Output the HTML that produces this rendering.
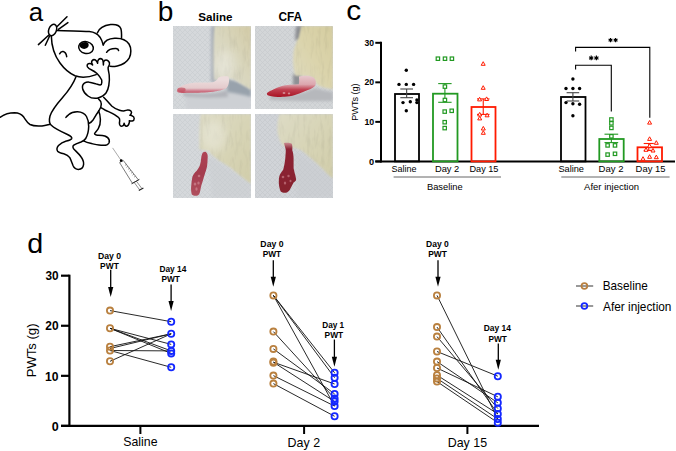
<!DOCTYPE html>
<html><head><meta charset="utf-8"><style>
html,body{margin:0;padding:0;background:#fff;}
body{width:676px;height:451px;overflow:hidden;position:relative;}
svg{position:absolute;left:0;top:0;font-family:"Liberation Sans", sans-serif;}
</style></head><body>
<svg width="676" height="451" viewBox="0 0 676 451">
<defs>
<filter id="soft" x="-10%" y="-10%" width="120%" height="120%"><feGaussianBlur stdDeviation="0.7"/></filter>
<filter id="soft4" x="-50%" y="-50%" width="200%" height="200%"><feGaussianBlur stdDeviation="4"/></filter>
<filter id="soft2" x="-30%" y="-30%" width="160%" height="160%"><feGaussianBlur stdDeviation="1.8"/></filter>
<filter id="furf" x="-5%" y="-5%" width="110%" height="110%" color-interpolation-filters="sRGB">
 <feGaussianBlur in="SourceGraphic" stdDeviation="1.1" result="b"/>
 <feTurbulence type="fractalNoise" baseFrequency="0.28 0.06" numOctaves="3" seed="5" result="t"/>
 <feColorMatrix in="t" type="matrix" values="0.12 0 0 0 0.935  0.12 0 0 0 0.935  0.12 0 0 0 0.935  0 0 0 0 1" result="m"/>
 <feComposite in="b" in2="m" operator="arithmetic" k1="1" k2="0" k3="0" k4="0"/>
</filter>
<pattern id="towel" x="0" y="0" width="5" height="5" patternUnits="userSpaceOnUse">
 <rect width="5" height="5" fill="#d8dbde"/>
 <path d="M0 0 L5 5 M5 0 L0 5" stroke="#b8bcc0" stroke-width="0.7"/>
</pattern>
<linearGradient id="fur1" x1="1" y1="0" x2="0" y2="1"><stop offset="0" stop-color="#d3cba6"/><stop offset="0.45" stop-color="#d9d6bd"/><stop offset="1" stop-color="#dddccf"/></linearGradient>
<linearGradient id="fur2" x1="1" y1="0" x2="0" y2="1"><stop offset="0" stop-color="#d5cda0"/><stop offset="0.5" stop-color="#dbd4ac"/><stop offset="1" stop-color="#dfdbc0"/></linearGradient>
<linearGradient id="fur3" x1="0" y1="0" x2="1" y2="1"><stop offset="0" stop-color="#dddbc5"/><stop offset="0.55" stop-color="#d7d4b5"/><stop offset="1" stop-color="#d1cdaa"/></linearGradient>
<linearGradient id="leg1" x1="0" y1="80" x2="0" y2="93.5" gradientUnits="userSpaceOnUse"><stop offset="0" stop-color="#ecdcdc"/><stop offset="0.6" stop-color="#e4cacc"/><stop offset="0.8" stop-color="#d08090"/><stop offset="1" stop-color="#c04456"/></linearGradient>
<linearGradient id="leg2" x1="0" y1="76" x2="0" y2="97" gradientUnits="userSpaceOnUse"><stop offset="0" stop-color="#e6c8cc"/><stop offset="0.4" stop-color="#dca6ae"/><stop offset="0.65" stop-color="#c04050"/><stop offset="1" stop-color="#a81424"/></linearGradient>
<linearGradient id="leg3" x1="0" y1="151" x2="0" y2="196" gradientUnits="userSpaceOnUse"><stop offset="0" stop-color="#b04454"/><stop offset="0.5" stop-color="#a43c4e"/><stop offset="1" stop-color="#b0505e"/></linearGradient>
<linearGradient id="leg4" x1="0" y1="143" x2="0" y2="193" gradientUnits="userSpaceOnUse"><stop offset="0" stop-color="#c88890"/><stop offset="0.12" stop-color="#8e2434"/><stop offset="1" stop-color="#86202e"/></linearGradient>
<clipPath id="cp1"><rect x="173" y="26" width="78" height="83"/></clipPath>
<clipPath id="cp2"><rect x="255" y="26" width="78" height="83"/></clipPath>
<clipPath id="cp3"><rect x="173" y="114" width="78" height="84"/></clipPath>
<clipPath id="cp4"><rect x="255" y="114" width="78" height="84"/></clipPath>
</defs>
<!-- photo 1 -->
<g clip-path="url(#cp1)">
<rect x="173" y="26" width="78" height="83" fill="#d3d7da"/>
<rect x="173" y="26" width="78" height="83" fill="url(#towel)" opacity="0.35"/>
<path d="M211 26 L218 26 L217 82 L211 82 Z" fill="#a9afb8" filter="url(#soft2)"/>
<path d="M186 93 C200 95 220 94 229 89 C236 91 244 93 251 94 L251 109 L186 109 Z" fill="#cdd0d4" filter="url(#soft2)"/>
<path d="M183 92.5 C195 94 215 95 227 90 L228 97 C215 98 195 98 183 96 Z" fill="#b2b4ba" filter="url(#soft2)"/>
<path d="M227 79 C235 80 244 84 251 89 L251 97 C244 95 236 93 227 92 Z" fill="#98a2ac" filter="url(#soft2)"/>
<path d="M214.5 26 L251 26 L251 90 C247 87.5 242 84.5 238 82 C235 80 232 78.8 229 78.5 C224 78.5 218 79.5 214 80.3 C213.2 65 213.2 40 214.5 26 Z" fill="url(#fur1)" filter="url(#furf)"/>
<ellipse cx="225" cy="64" rx="9" ry="14" fill="#f4f4ee" opacity="0.4" filter="url(#soft4)"/>
<path d="M228.5 76.5 C229.6 80 229.2 85 226.5 88 C223 90.5 215 91.5 207.6 92.3 C200 93 190 92.5 184 93 C180 93.3 177 92.5 176.8 90.8 C176.8 89 178.5 87.5 181 86.3 C185 84 190 83 196 82.6 C202 82.3 208 82.8 212.5 82.2 C216 81.6 217.5 79.5 218.5 77.5 C221 76.3 225.5 76 228.5 76.5 Z" fill="url(#leg1)" filter="url(#soft)"/>
<ellipse cx="181.5" cy="89.8" rx="4.2" ry="2.4" fill="#c24a5a" opacity="0.65" filter="url(#soft)"/>
</g>
<!-- photo 2 -->
<g clip-path="url(#cp2)">
<rect x="255" y="26" width="78" height="83" fill="#d1d3d5"/>
<rect x="255" y="26" width="78" height="83" fill="url(#towel)" opacity="0.35"/>
<path d="M296 26 L304 26 L300 40 L295 40 Z" fill="#8a8c90" filter="url(#soft2)"/>
<path d="M293 74 L301 74 L301 86 L293 86 Z" fill="#8e9094" filter="url(#soft2)"/>
<path d="M270 95 C285 97 300 95 315 88 C322 90 328 91 333 92 L333 101 C310 101 290 101 270 100 Z" fill="#b6b8bc" filter="url(#soft2)"/>
<path d="M301.5 26 L333 26 L333 89 C327 88.5 320 87 316.5 84 C315 80 313 77.5 309 76.5 C304 76 299 76 295 75.5 C293.8 70 293 64 293.1 60.6 C293.2 55 293.6 51 294.2 49 C295.5 44 297.5 40 298.8 37.5 C299.8 33 300.6 29 301.5 26 Z" fill="url(#fur2)" filter="url(#furf)"/>
<path d="M299 76.5 C304 75.5 310 75.5 313.5 77.5 C316 79.5 316.5 83 315 86 C312.5 88.5 308 90 303 92 C298 94 293 95.8 289.6 96.3 C285 97 281 97 278 96.9 C273 96.6 269 96 267.7 95.2 C266.5 94.3 266.8 93.2 267.7 92.5 C269 91.3 271 90.5 272.3 90 C275 88.6 277.5 87.3 280.4 86.5 C283.5 85.6 287 85 289.6 84.8 C293 84.6 296 84.5 298.8 84.2 C299.5 81.5 299 79 299 76.5 Z" fill="url(#leg2)" filter="url(#soft)"/>
<g fill="#e0b0b4" opacity="0.7" filter="url(#soft)">
<ellipse cx="284" cy="93" rx="1.4" ry="1"/><ellipse cx="289" cy="93.5" rx="1.2" ry="0.9"/>
</g>
</g>
<!-- photo 3 -->
<g clip-path="url(#cp3)">
<rect x="173" y="114" width="78" height="84" fill="#d4d7da"/>
<rect x="173" y="114" width="78" height="84" fill="url(#towel)" opacity="0.35"/>
<path d="M208 156 C220 163 236 174 251 184 L251 198 L212 198 Z" fill="#c8cbcf" opacity="0.45" filter="url(#soft2)"/>
<path d="M200.5 114 L251 114 L251 183.8 C246 180.3 242 177 238.8 174.4 C235 171.5 232 169 231.8 168.5 C228 166 225 164.5 222.4 162.6 C219 160.5 216.5 158.5 214.1 156.8 C211.5 154.5 209.5 152.5 208.3 150.9 C205 150.5 202 150 199.5 149.5 C199 138 199.3 125 200.5 114 Z" fill="url(#fur3)" filter="url(#furf)"/>
<ellipse cx="214" cy="136" rx="12" ry="16" fill="#f4f4ee" opacity="0.35" filter="url(#soft4)"/>
<path d="M205.9 152 C207.2 153 207.9 155 207.7 156.8 C207.6 160 207.5 163 207.1 166.2 C206.4 169.5 205.5 172 204.7 174.4 C204 176.5 203.5 178.5 203 180.3 C202.3 182.3 201.7 184.2 201.2 186.1 C200.7 188 200.4 190.2 200 192 C199.5 193.8 198.8 195 197.7 195.5 C195.5 196 193 195.6 191.8 194.4 C191 191.5 190.9 188.8 191.2 186.1 C191.4 182.8 191.8 179.5 192.4 176.7 C193.3 174 195 172.2 196.5 170.9 C198 169 199.3 167 200 165 C200.7 162.5 201 160 201.2 157.9 C201.6 155.5 202.2 153.5 203 152.6 C203.8 151.9 204.9 151.6 205.9 152 Z" fill="url(#leg3)" filter="url(#soft)"/>
<g fill="#d89aa2" opacity="0.55" filter="url(#soft)">
<ellipse cx="195" cy="184" rx="1.3" ry="1.6"/><ellipse cx="198.5" cy="183" rx="1.2" ry="1.5"/><ellipse cx="196.5" cy="189" rx="1.1" ry="1.8"/><ellipse cx="199" cy="176" rx="1.3" ry="1.2"/>
</g>
</g>
<!-- photo 4 -->
<g clip-path="url(#cp4)">
<rect x="255" y="114" width="78" height="84" fill="#cdd0d4"/>
<rect x="255" y="114" width="78" height="84" fill="url(#towel)" opacity="0.35"/>
<path d="M294 150 C308 158 322 168 333 178 L333 198 L296 198 Z" fill="#c8cbcf" opacity="0.45" filter="url(#soft2)"/>
<path d="M279.4 114 L333 114 L333 178.6 C330 176 328.5 175 327 173.4 C324 170 321.5 167.5 319.3 165.7 C315.5 162 312 159 309 156.7 C306 154 303.5 152 301.3 150.3 C298 148.8 295 148 292.3 147.7 C289 147.5 286 146.5 283.5 145.5 C280.5 143 278.5 138 277.5 132 C277 126 277.5 120 279.4 114 Z" fill="url(#fur3)" filter="url(#furf)"/>
<path d="M284 143 C286 142.5 289.5 142.5 291.5 143.5 C292.5 145 292.5 147.5 292.3 150.3 C293.2 153 293.6 156 293.6 159.3 C293.6 162.5 293.6 165.5 293.6 168.3 C293.9 170 294.4 171.7 294.8 173.4 C295.4 175.5 296 177.5 296.1 179.8 C295.8 181.2 294.7 181.8 293.6 182.4 C292.3 185 291 187.5 289.7 190.1 C288.6 191.7 287.3 192.6 285.8 192.7 C284 193 282 192.5 280.7 191.4 C279.5 188.5 278.9 185.5 278.8 182.4 C278.7 180 278.9 178 279.4 176 C280.3 173.5 282 171.5 283.3 169.6 C284.2 166 284.8 162.5 285.2 159.3 C285.5 156 285.7 153 285.8 150.3 C285.5 148 284.5 145.5 284 143 Z" fill="url(#leg4)" filter="url(#soft)"/>
<g fill="#d08890" opacity="0.6" filter="url(#soft)">
<ellipse cx="283" cy="177" rx="1.3" ry="1.3"/><ellipse cx="288.5" cy="176" rx="1.2" ry="1.2"/><ellipse cx="285" cy="183" rx="1.2" ry="1.5"/><ellipse cx="290.5" cy="181" rx="1" ry="1.2"/>
</g>
</g>

<g fill="none" stroke="#000" stroke-width="1.5" stroke-linecap="round" stroke-linejoin="round">
<!-- whiskers -->
<path d="M57.4 26.2 L67 16.8 M58.4 29.4 L67.9 22.6 M48.6 35.3 L38.4 44.6 M49.5 36.3 L45.3 45.3"/>
<!-- head top -->
<path d="M56.4 30.5 C70 30.8 84 31 89.3 31.5 C94 32 98 34.3 100 37.2 C101.5 39.5 102.5 42 103.2 44.9"/>
<!-- head left & chin -->
<path d="M51.3 35.8 C51.5 45 54 55 60 63 C64 68.5 70 73.5 75 75.8 C80 77.6 88 77.6 96.2 74.6"/>
<!-- nose -->
<ellipse cx="52.6" cy="30" rx="3.8" ry="5.9" transform="rotate(22 52.6 30)" fill="#fff"/>
<!-- cheek -->
<path d="M59.6 53.8 C60.5 52 62 51.4 63.2 51.6 C65 52 66.3 54 66.7 56.7"/>
<!-- eye -->
<ellipse cx="86" cy="47.6" rx="7.4" ry="5.9" transform="rotate(14 86 47.6)"/>
<!-- back ear -->
<path d="M97.3 32.9 C99 28.5 104 25.5 110.6 24.6 C115 24.2 119.5 25.3 120.8 28.5 C121.8 31.5 121.6 35.5 121.5 38.3"/>
<!-- front ear -->
<path d="M103.2 44.9 C104.5 41 109 38.5 114.6 38.2 C120 37.9 126 39.5 129 44 C131.5 48 131.3 54 129.3 57.9 C127 62 122 65 117.3 65.9 C114.5 66.5 111.8 66.5 110 66.3"/>
<path d="M106.6 52.3 C108.5 49.5 112 48.5 116 48.6 C117.5 48.8 118.5 49.6 118.6 50.6"/>
<!-- left arm + hand (closed) -->
<path fill="#fff" d="M101.7 80 C100.5 77.5 99 75.5 97 73.5 C95 71.6 93 70.5 91.2 69.7 C89.5 69 88.2 68 87.5 66.8 C86.8 65.5 87.2 64.2 88.3 63.8 C89.5 63.3 91.5 63.8 92.6 65 C91.6 63.5 91.4 61.5 92.2 60.5 C93 59.7 94.5 59.5 95.4 60 C96.5 60.6 97.2 62 97.6 63.3 C97.5 61.8 97.9 60.2 98.7 59.4 C99.5 58.7 101.3 58.6 102.3 59.4 C103.1 60.1 103.3 62.5 103.4 65 C103.3 62.8 103.6 61.2 104.5 60.5 C105.3 60 107.2 60.1 108.4 61.1 C109.5 62 109.7 63.5 109.4 64.6 C109.1 65.8 108.3 66.5 108.1 67.6 C108 69.5 108.8 72 109.2 75 C109.6 78.5 109.4 82 108.8 85.5 C108.2 89 107.5 91 106 93 C104.5 95 102 97 97.2 98.2 C93 98.8 90 97.5 88 96 C85.5 94.2 83.5 92 82.7 89 C82.2 87 82.6 84.5 84.4 83.2 C86 82.2 88 82 89.4 82.2 C92 82.5 94 83.3 96.1 83.9 C97.8 84.4 99.2 85 100.2 84.9 C101.4 84.7 101.8 83.8 101.8 82.5 Z"/>
<!-- body left + left foot + thigh inner -->
<path d="M75.9 77 C74 82 70 89 62.6 97.6 C57 104 52 110 50 116 C49 120 49.3 123.3 51 125 C54 128 62 132 67.5 134.5 C70.5 136 72.2 137.3 71.7 138.6 C71 140 68.5 140.5 66.3 141 C63.5 141.8 60.5 143.4 58.5 145.5 C57 147.3 56.7 149.8 57.6 151.2 C58.8 152.6 61.5 153.2 63.8 153.7 C66 154.3 68.3 155.5 69.8 157.7 C71 160 72 163 73 165.5 C74 167.8 75.8 169.4 78.4 169.4 C81 169.3 83.2 167.5 83.6 164.3 C84 161.5 82.6 158.9 80.8 156.5 C78.8 153.7 76 151.3 74 149.2 C72.6 147.6 72.6 146.2 73.8 145.2 C75.5 143.9 78.5 142.9 81 142 C83 141.2 84.5 140.5 85.7 138.5 C87.5 135.5 88.6 131 88.7 126.6 C88.8 122.5 88.2 119.5 86.5 116.5 C84.8 113.5 81.5 111.8 77.5 111.7 C73.5 111.6 70.5 113 68.5 114.8 C67.5 115.6 66.5 116.6 65.9 117.4"/>
<!-- tail -->
<path d="M50.2 124.3 C47 125 45.5 125.5 42 125.9 C38 126.2 33 126 30 124.5 C27 122.8 25.5 119.5 23.5 116.7 C21.5 114 18.5 112.8 14.5 112.7 C9 112.7 4 114.5 0 117.3"/>
<!-- right leg / foot -->
<path d="M83.6 140.8 C86 142 88 142.7 90.5 143.3 C93.5 144 96 144.8 99 145.1 C102 145.4 105.5 145.4 107.2 144.7 C109 143.8 109.6 141.8 109.2 140 C108.6 138 107 136.8 104.8 136 C102.5 135.3 99.5 135.3 97.5 135.2 C95.8 135.1 94.5 134.5 94.6 133.6 C95 132.4 97 130.8 98.3 128.6 C99.8 126 100.5 123 100.4 119.5 C100.3 116 99.6 113 98.6 111.2"/>
<path d="M98.6 111.2 C96.5 114 94.5 117.5 93 120 C92 121.5 90.8 122.5 89.2 123.2"/>
<!-- body right -->
<path d="M98.5 98.8 C100.3 100.3 101.3 102 101.3 104 C101.3 106 100.6 108 99.4 109.8 L98.6 111.2"/>
<!-- right arm -->
<path d="M103.6 97.3 C106 99.5 109 103.3 112 106.3 C114.5 108.4 117 109.6 119.5 110.3 C121 110.8 122.3 110.9 123.5 110.9 C125 110.8 126.5 110.1 127.6 110 C129 109.9 130.2 110.3 130.9 111 C131.6 111.8 131.7 112.9 131.2 113.7 C130.8 114.4 130.1 114.9 129.9 115.3 C130.5 115.4 131.3 115.4 132 115.7 C133.3 116.2 134.2 117.2 134.2 118.5 C134.2 119.8 133.4 120.8 132.3 121 C131.2 121.2 130 120.9 129.3 120.7 C129.5 121.3 129.4 122.4 129.1 123.3 C128.7 124.8 127.6 126.1 126.4 126.2 C125.3 126.2 124.4 125.1 124.1 123.2 C124 124.5 123.3 125.7 122.2 126.1 C121.2 126.4 120.2 125.9 119.7 124.8 C119.3 123.6 119.4 122 119.7 120.8 C119.9 119.5 119.6 118.4 118.6 117.5 C117.5 116.6 116 115.6 114.5 114.6 C112 113 108 111.5 105 110 C103.5 109.2 102.3 108.5 101.3 107.9"/>
</g>
<!-- pupil -->
<clipPath id="eyeclip"><ellipse cx="86" cy="47.6" rx="6.9" ry="5.4" transform="rotate(14 86 47.6)"/></clipPath>
<ellipse cx="84.1" cy="45.1" rx="4.6" ry="3.9" fill="#000" clip-path="url(#eyeclip)"/>
<!-- syringe -->
<g fill="none" stroke="#222" stroke-linecap="butt">
<line x1="112.6" y1="147.9" x2="120.9" y2="160.1" stroke-width="0.5" stroke="#555"/>
<circle cx="121.2" cy="160.7" r="1.4" fill="#000" stroke="none"/>
<path d="M119.6 162.6 L123.3 160.5 L138.5 180 L132.4 183.3 Z" stroke-width="0.6" transform="translate(0,0)"/>
<path d="M131.5 183.8 L139.4 179.4" stroke-width="0.9"/>
<path d="M134.3 182.6 L139.6 189.8 M136.6 181.4 L141.9 188.6" stroke-width="0.5"/>
<path d="M138.8 190.4 L143.4 187.9" stroke-width="1.1"/>
<path d="M126.34 164.40 l-1.4 1.1 M127.86 166.35 l-1.4 1.1 M129.38 168.30 l-1.4 1.1 M130.90 170.25 l-1.4 1.1 M132.42 172.20 l-1.4 1.1 M133.94 174.15 l-1.4 1.1 M135.46 176.10 l-1.4 1.1" stroke-width="0.45"/>
</g>

<line x1="381" y1="41.81000000000002" x2="381" y2="162.4" stroke="#000" stroke-width="2"/>
<line x1="375.3" y1="161.4" x2="675" y2="161.4" stroke="#000" stroke-width="2"/>
<line x1="375.3" y1="161.4" x2="381" y2="161.4" stroke="#000" stroke-width="2"/>
<line x1="375.3" y1="121.87" x2="381" y2="121.87" stroke="#000" stroke-width="2"/>
<line x1="375.3" y1="82.34" x2="381" y2="82.34" stroke="#000" stroke-width="2"/>
<line x1="375.3" y1="42.81000000000002" x2="381" y2="42.81000000000002" stroke="#000" stroke-width="2"/>
<rect x="395" y="94.0" width="24" height="67.4" fill="none" stroke="#000" stroke-width="1.8"/>
<rect x="433" y="93.7" width="24.5" height="67.7" fill="none" stroke="#229922" stroke-width="1.8"/>
<rect x="471.5" y="107" width="24.0" height="54.400000000000006" fill="none" stroke="#ff1a00" stroke-width="1.8"/>
<rect x="561" y="97.0" width="24.5" height="64.4" fill="none" stroke="#000" stroke-width="1.8"/>
<rect x="599.3" y="139" width="24.40000000000009" height="22.400000000000006" fill="none" stroke="#229922" stroke-width="1.8"/>
<rect x="637.5" y="147.3" width="24.5" height="14.099999999999994" fill="none" stroke="#ff1a00" stroke-width="1.8"/>
<g stroke="#444" stroke-width="1.1"><line x1="406.65" y1="89.0" x2="406.65" y2="97.7"/><line x1="400.3" y1="89.0" x2="413" y2="89.0"/><line x1="400.3" y1="97.7" x2="413" y2="97.7"/></g>
<g stroke="#229922" stroke-width="1.1"><line x1="444.9" y1="83.6" x2="444.9" y2="102.3"/><line x1="438.2" y1="83.6" x2="451.6" y2="83.6"/><line x1="438.2" y1="102.3" x2="451.6" y2="102.3"/></g>
<g stroke="#ff1a00" stroke-width="1.1"><line x1="483.25" y1="98.9" x2="483.25" y2="114.4"/><line x1="477" y1="98.9" x2="489.5" y2="98.9"/><line x1="477" y1="114.4" x2="489.5" y2="114.4"/></g>
<g stroke="#444" stroke-width="1.1"><line x1="572.9000000000001" y1="92.7" x2="572.9000000000001" y2="101"/><line x1="566.6" y1="92.7" x2="579.2" y2="92.7"/><line x1="566.6" y1="101" x2="579.2" y2="101"/></g>
<g stroke="#229922" stroke-width="1.1"><line x1="611.35" y1="134.2" x2="611.35" y2="142.6"/><line x1="604.5" y1="134.2" x2="618.2" y2="134.2"/><line x1="604.5" y1="142.6" x2="618.2" y2="142.6"/></g>
<g stroke="#ff1a00" stroke-width="1.1"><line x1="648.75" y1="143.5" x2="648.75" y2="150.4"/><line x1="643.7" y1="143.5" x2="653.8" y2="143.5"/><line x1="643.7" y1="150.4" x2="653.8" y2="150.4"/></g>
<circle cx="406.3" cy="70.2" r="1.7" fill="#000"/>
<circle cx="399" cy="84.4" r="1.7" fill="#000"/>
<circle cx="406.3" cy="84.4" r="1.7" fill="#000"/>
<circle cx="413.6" cy="84.4" r="1.7" fill="#000"/>
<circle cx="403" cy="102.6" r="1.7" fill="#000"/>
<circle cx="410.3" cy="101.7" r="1.7" fill="#000"/>
<circle cx="416.9" cy="99.9" r="1.7" fill="#000"/>
<circle cx="416.9" cy="102.6" r="1.7" fill="#000"/>
<circle cx="406.3" cy="110.8" r="1.7" fill="#000"/>
<circle cx="572.9" cy="79" r="1.7" fill="#000"/>
<circle cx="566" cy="88.5" r="1.7" fill="#000"/>
<circle cx="572.9" cy="88.5" r="1.7" fill="#000"/>
<circle cx="579.6" cy="88.5" r="1.7" fill="#000"/>
<circle cx="566" cy="102.6" r="1.7" fill="#000"/>
<circle cx="572.9" cy="103.7" r="1.7" fill="#000"/>
<circle cx="579.6" cy="104.3" r="1.7" fill="#000"/>
<circle cx="572.9" cy="115.7" r="1.7" fill="#000"/>
<rect x="436.2" y="57.0" width="3.4" height="3.4" fill="#fff" stroke="#229922" stroke-width="1.2"/>
<rect x="443.3" y="57.0" width="3.4" height="3.4" fill="#fff" stroke="#229922" stroke-width="1.2"/>
<rect x="450.2" y="57.0" width="3.4" height="3.4" fill="#fff" stroke="#229922" stroke-width="1.2"/>
<rect x="443.2" y="84.89999999999999" width="3.4" height="3.4" fill="#fff" stroke="#229922" stroke-width="1.2"/>
<rect x="443.2" y="98.3" width="3.4" height="3.4" fill="#fff" stroke="#229922" stroke-width="1.2"/>
<rect x="443.0" y="109.89999999999999" width="3.4" height="3.4" fill="#fff" stroke="#229922" stroke-width="1.2"/>
<rect x="450.0" y="109.1" width="3.4" height="3.4" fill="#fff" stroke="#229922" stroke-width="1.2"/>
<rect x="443.0" y="120.5" width="3.4" height="3.4" fill="#fff" stroke="#229922" stroke-width="1.2"/>
<rect x="443.0" y="126.39999999999999" width="3.4" height="3.4" fill="#fff" stroke="#229922" stroke-width="1.2"/>
<rect x="609.6999999999999" y="117.8" width="3.4" height="3.4" fill="#fff" stroke="#229922" stroke-width="1.2"/>
<rect x="609.6999999999999" y="121.6" width="3.4" height="3.4" fill="#fff" stroke="#229922" stroke-width="1.2"/>
<rect x="609.6999999999999" y="126.2" width="3.4" height="3.4" fill="#fff" stroke="#229922" stroke-width="1.2"/>
<rect x="609.6999999999999" y="134.60000000000002" width="3.4" height="3.4" fill="#fff" stroke="#229922" stroke-width="1.2"/>
<rect x="605.9" y="143.70000000000002" width="3.4" height="3.4" fill="#fff" stroke="#229922" stroke-width="1.2"/>
<rect x="613.3" y="143.70000000000002" width="3.4" height="3.4" fill="#fff" stroke="#229922" stroke-width="1.2"/>
<rect x="605.9" y="152.9" width="3.4" height="3.4" fill="#fff" stroke="#229922" stroke-width="1.2"/>
<rect x="613.3" y="152.10000000000002" width="3.4" height="3.4" fill="#fff" stroke="#229922" stroke-width="1.2"/>
<path d="M483.2 61.7 L485.2 65.3 L481.2 65.3 Z" fill="#fff" stroke="#ff1a00" stroke-width="1"/>
<path d="M483.2 85.7 L485.2 89.3 L481.2 89.3 Z" fill="#fff" stroke="#ff1a00" stroke-width="1"/>
<path d="M479.6 97.3 L481.6 100.89999999999999 L477.6 100.89999999999999 Z" fill="#fff" stroke="#ff1a00" stroke-width="1"/>
<path d="M486.6 96.9 L488.6 100.5 L484.6 100.5 Z" fill="#fff" stroke="#ff1a00" stroke-width="1"/>
<path d="M479.7 112.4 L481.7 116.0 L477.7 116.0 Z" fill="#fff" stroke="#ff1a00" stroke-width="1"/>
<path d="M487.1 113.2 L489.1 116.8 L485.1 116.8 Z" fill="#fff" stroke="#ff1a00" stroke-width="1"/>
<path d="M479.7 116.3 L481.7 119.89999999999999 L477.7 119.89999999999999 Z" fill="#fff" stroke="#ff1a00" stroke-width="1"/>
<path d="M483.3 126.4 L485.3 130.0 L481.3 130.0 Z" fill="#fff" stroke="#ff1a00" stroke-width="1"/>
<path d="M483.3 130.7 L485.3 134.29999999999998 L481.3 134.29999999999998 Z" fill="#fff" stroke="#ff1a00" stroke-width="1"/>
<path d="M649.6 120.5 L651.6 124.1 L647.6 124.1 Z" fill="#fff" stroke="#ff1a00" stroke-width="1"/>
<path d="M649.6 136.8 L651.6 140.4 L647.6 140.4 Z" fill="#fff" stroke="#ff1a00" stroke-width="1"/>
<path d="M656.3 140.7 L658.3 144.29999999999998 L654.3 144.29999999999998 Z" fill="#fff" stroke="#ff1a00" stroke-width="1"/>
<path d="M649.6 143.8 L651.6 147.4 L647.6 147.4 Z" fill="#fff" stroke="#ff1a00" stroke-width="1"/>
<path d="M646 147.7 L648 151.29999999999998 L644 151.29999999999998 Z" fill="#fff" stroke="#ff1a00" stroke-width="1"/>
<path d="M653 148.4 L655 152.0 L651 152.0 Z" fill="#fff" stroke="#ff1a00" stroke-width="1"/>
<path d="M649.6 154.7 L651.6 158.29999999999998 L647.6 158.29999999999998 Z" fill="#fff" stroke="#ff1a00" stroke-width="1"/>
<path d="M656.3 155.1 L658.3 158.7 L654.3 158.7 Z" fill="#fff" stroke="#ff1a00" stroke-width="1"/>
<path d="M643 156.7 L645 160.29999999999998 L641 160.29999999999998 Z" fill="#fff" stroke="#ff1a00" stroke-width="1"/>
<g stroke="#000" stroke-width="1.1" fill="none"><path d="M575.6 51.6 V47.4 H649.8 V117.8"/><path d="M575.6 69.5 V65.3 H611.3 V111.5"/></g>
<path d="M610.50 37.90 L610.50 42.30 M608.59 39.00 L612.41 41.20 M612.41 39.00 L608.59 41.20 " stroke="#000" stroke-width="1.15" stroke-linecap="butt"/>
<path d="M615.60 37.90 L615.60 42.30 M613.69 39.00 L617.51 41.20 M617.51 39.00 L613.69 41.20 " stroke="#000" stroke-width="1.15" stroke-linecap="butt"/>
<path d="M591.20 55.55 L591.20 60.35 M589.12 56.75 L593.28 59.15 M593.28 56.75 L589.12 59.15 " stroke="#000" stroke-width="1.15" stroke-linecap="butt"/>
<path d="M596.40 55.55 L596.40 60.35 M594.32 56.75 L598.48 59.15 M598.48 56.75 L594.32 59.15 " stroke="#000" stroke-width="1.15" stroke-linecap="butt"/>
<line x1="393.6" y1="177" x2="501" y2="177" stroke="#666" stroke-width="1"/>
<line x1="561.3" y1="177" x2="669.6" y2="177" stroke="#666" stroke-width="1"/>
<line x1="69.4" y1="274.69" x2="69.4" y2="426.9" stroke="#000" stroke-width="2.2"/>
<line x1="61" y1="425.9" x2="539" y2="425.9" stroke="#000" stroke-width="2.2"/>
<line x1="61" y1="425.9" x2="69.4" y2="425.9" stroke="#000" stroke-width="2.2"/>
<line x1="61" y1="375.83" x2="69.4" y2="375.83" stroke="#000" stroke-width="2.2"/>
<line x1="61" y1="325.76" x2="69.4" y2="325.76" stroke="#000" stroke-width="2.2"/>
<line x1="61" y1="275.69" x2="69.4" y2="275.69" stroke="#000" stroke-width="2.2"/>
<line x1="140.4" y1="425.9" x2="140.4" y2="434" stroke="#000" stroke-width="2"/>
<line x1="304.1" y1="425.9" x2="304.1" y2="434" stroke="#000" stroke-width="2"/>
<line x1="467.4" y1="425.9" x2="467.4" y2="434" stroke="#000" stroke-width="2"/>
<line x1="110" y1="310.6" x2="171.2" y2="321.7" stroke="#111" stroke-width="0.9"/>
<line x1="110" y1="328.3" x2="171.2" y2="344.4" stroke="#111" stroke-width="0.9"/>
<line x1="110" y1="328.3" x2="171.2" y2="350.9" stroke="#111" stroke-width="0.9"/>
<line x1="110" y1="328.3" x2="171.2" y2="353.4" stroke="#111" stroke-width="0.9"/>
<line x1="110" y1="346.7" x2="171.2" y2="333.8" stroke="#111" stroke-width="0.9"/>
<line x1="110" y1="348.5" x2="171.2" y2="333.8" stroke="#111" stroke-width="0.9"/>
<line x1="110" y1="350.5" x2="171.2" y2="350.9" stroke="#111" stroke-width="0.9"/>
<line x1="110" y1="350.5" x2="171.2" y2="367.3" stroke="#111" stroke-width="0.9"/>
<line x1="110" y1="361.3" x2="171.2" y2="333.8" stroke="#111" stroke-width="0.9"/>
<circle cx="110" cy="310.6" r="3.1" fill="none" stroke="#b9803f" stroke-width="1.8"/>
<circle cx="110" cy="328.3" r="3.1" fill="none" stroke="#b9803f" stroke-width="1.8"/>
<circle cx="110" cy="346.7" r="3.1" fill="none" stroke="#b9803f" stroke-width="1.8"/>
<circle cx="110" cy="350.5" r="3.1" fill="none" stroke="#b9803f" stroke-width="1.8"/>
<circle cx="110" cy="361.3" r="3.1" fill="none" stroke="#b9803f" stroke-width="1.8"/>
<circle cx="171.2" cy="321.7" r="3.1" fill="none" stroke="#1428ff" stroke-width="1.8"/>
<circle cx="171.2" cy="333.8" r="3.1" fill="none" stroke="#1428ff" stroke-width="1.8"/>
<circle cx="171.2" cy="344.4" r="3.1" fill="none" stroke="#1428ff" stroke-width="1.8"/>
<circle cx="171.2" cy="350.9" r="3.1" fill="none" stroke="#1428ff" stroke-width="1.8"/>
<circle cx="171.2" cy="353.4" r="3.1" fill="none" stroke="#1428ff" stroke-width="1.8"/>
<circle cx="171.2" cy="367.3" r="3.1" fill="none" stroke="#1428ff" stroke-width="1.8"/>
<line x1="273.4" y1="295.4" x2="334.6" y2="372.8" stroke="#111" stroke-width="0.9"/>
<line x1="273.4" y1="295.4" x2="334.6" y2="377.7" stroke="#111" stroke-width="0.9"/>
<line x1="273.4" y1="295.4" x2="334.6" y2="406.1" stroke="#111" stroke-width="0.9"/>
<line x1="273.4" y1="331.6" x2="334.6" y2="398.5" stroke="#111" stroke-width="0.9"/>
<line x1="273.4" y1="348.9" x2="334.6" y2="393.9" stroke="#111" stroke-width="0.9"/>
<line x1="273.4" y1="362.2" x2="334.6" y2="384" stroke="#111" stroke-width="0.9"/>
<line x1="273.4" y1="362.2" x2="334.6" y2="401.5" stroke="#111" stroke-width="0.9"/>
<line x1="273.4" y1="375.6" x2="334.6" y2="406.1" stroke="#111" stroke-width="0.9"/>
<line x1="273.4" y1="383.6" x2="334.6" y2="416.3" stroke="#111" stroke-width="0.9"/>
<circle cx="273.4" cy="295.4" r="3.1" fill="none" stroke="#b9803f" stroke-width="1.8"/>
<circle cx="273.4" cy="331.6" r="3.1" fill="none" stroke="#b9803f" stroke-width="1.8"/>
<circle cx="273.4" cy="348.9" r="3.1" fill="none" stroke="#b9803f" stroke-width="1.8"/>
<circle cx="273.4" cy="361.5" r="3.1" fill="none" stroke="#b9803f" stroke-width="1.8"/>
<circle cx="273.4" cy="362.8" r="3.1" fill="none" stroke="#b9803f" stroke-width="1.8"/>
<circle cx="273.4" cy="375.6" r="3.1" fill="none" stroke="#b9803f" stroke-width="1.8"/>
<circle cx="273.4" cy="383.6" r="3.1" fill="none" stroke="#b9803f" stroke-width="1.8"/>
<circle cx="334.6" cy="372.8" r="3.1" fill="none" stroke="#1428ff" stroke-width="1.8"/>
<circle cx="334.6" cy="377.7" r="3.1" fill="none" stroke="#1428ff" stroke-width="1.8"/>
<circle cx="334.6" cy="384" r="3.1" fill="none" stroke="#1428ff" stroke-width="1.8"/>
<circle cx="334.6" cy="393.9" r="3.1" fill="none" stroke="#1428ff" stroke-width="1.8"/>
<circle cx="334.6" cy="398.5" r="3.1" fill="none" stroke="#1428ff" stroke-width="1.8"/>
<circle cx="334.6" cy="401.5" r="3.1" fill="none" stroke="#1428ff" stroke-width="1.8"/>
<circle cx="334.6" cy="406.1" r="3.1" fill="none" stroke="#1428ff" stroke-width="1.8"/>
<circle cx="334.6" cy="416.3" r="3.1" fill="none" stroke="#1428ff" stroke-width="1.8"/>
<line x1="437" y1="295.4" x2="497.8" y2="419" stroke="#111" stroke-width="0.9"/>
<line x1="437" y1="327.1" x2="497.8" y2="413.9" stroke="#111" stroke-width="0.9"/>
<line x1="437" y1="336.6" x2="497.8" y2="408.5" stroke="#111" stroke-width="0.9"/>
<line x1="437" y1="351.5" x2="497.8" y2="376.2" stroke="#111" stroke-width="0.9"/>
<line x1="437" y1="361.6" x2="497.8" y2="402.8" stroke="#111" stroke-width="0.9"/>
<line x1="437" y1="368" x2="497.8" y2="396.8" stroke="#111" stroke-width="0.9"/>
<line x1="437" y1="375.2" x2="497.8" y2="413.9" stroke="#111" stroke-width="0.9"/>
<line x1="437" y1="378.4" x2="497.8" y2="419" stroke="#111" stroke-width="0.9"/>
<line x1="437" y1="381.6" x2="497.8" y2="422.7" stroke="#111" stroke-width="0.9"/>
<circle cx="437" cy="295.4" r="3.1" fill="none" stroke="#b9803f" stroke-width="1.8"/>
<circle cx="437" cy="327.1" r="3.1" fill="none" stroke="#b9803f" stroke-width="1.8"/>
<circle cx="437" cy="336.6" r="3.1" fill="none" stroke="#b9803f" stroke-width="1.8"/>
<circle cx="437" cy="351.5" r="3.1" fill="none" stroke="#b9803f" stroke-width="1.8"/>
<circle cx="437" cy="361.6" r="3.1" fill="none" stroke="#b9803f" stroke-width="1.8"/>
<circle cx="437" cy="368" r="3.1" fill="none" stroke="#b9803f" stroke-width="1.8"/>
<circle cx="437" cy="375.2" r="3.1" fill="none" stroke="#b9803f" stroke-width="1.8"/>
<circle cx="437" cy="378.4" r="3.1" fill="none" stroke="#b9803f" stroke-width="1.8"/>
<circle cx="437" cy="381.6" r="3.1" fill="none" stroke="#b9803f" stroke-width="1.8"/>
<circle cx="497.8" cy="376.2" r="3.1" fill="none" stroke="#1428ff" stroke-width="1.8"/>
<circle cx="497.8" cy="396.8" r="3.1" fill="none" stroke="#1428ff" stroke-width="1.8"/>
<circle cx="497.8" cy="402.8" r="3.1" fill="none" stroke="#1428ff" stroke-width="1.8"/>
<circle cx="497.8" cy="408.5" r="3.1" fill="none" stroke="#1428ff" stroke-width="1.8"/>
<circle cx="497.8" cy="413.9" r="3.1" fill="none" stroke="#1428ff" stroke-width="1.8"/>
<circle cx="497.8" cy="419" r="3.1" fill="none" stroke="#1428ff" stroke-width="1.8"/>
<circle cx="497.8" cy="422.7" r="3.1" fill="none" stroke="#1428ff" stroke-width="1.8"/>
<line x1="110.7" y1="269.8" x2="110.7" y2="289" stroke="#000" stroke-width="1.3"/>
<path d="M108.10000000000001 287 L113.3 287 L110.7 297 Z" fill="#000"/>
<line x1="171.1" y1="284.6" x2="171.1" y2="303" stroke="#000" stroke-width="1.3"/>
<path d="M168.5 301 L173.7 301 L171.1 311 Z" fill="#000"/>
<line x1="273.3" y1="260.3" x2="273.3" y2="278.7" stroke="#000" stroke-width="1.3"/>
<path d="M270.7 276.7 L275.90000000000003 276.7 L273.3 286.7 Z" fill="#000"/>
<line x1="334.4" y1="339.5" x2="334.4" y2="358.7" stroke="#000" stroke-width="1.3"/>
<path d="M331.79999999999995 356.7 L337.0 356.7 L334.4 366.7 Z" fill="#000"/>
<line x1="438" y1="260.3" x2="438" y2="278.7" stroke="#000" stroke-width="1.3"/>
<path d="M435.4 276.7 L440.6 276.7 L438 286.7 Z" fill="#000"/>
<line x1="498.3" y1="343.4" x2="498.3" y2="361.8" stroke="#000" stroke-width="1.3"/>
<path d="M495.7 359.8 L500.90000000000003 359.8 L498.3 369.8 Z" fill="#000"/>
<line x1="576" y1="286" x2="593.2" y2="286" stroke="#555" stroke-width="1.2"/>
<circle cx="584.4" cy="286" r="2.9" fill="none" stroke="#b9803f" stroke-width="1.7"/>
<line x1="576" y1="306" x2="593.2" y2="306" stroke="#555" stroke-width="1.2"/>
<circle cx="584.4" cy="306" r="2.9" fill="none" stroke="#1428ff" stroke-width="1.7"/>
<text x="28.722" y="20.6" font-size="25.697" font-weight="normal" textLength="14.395" lengthAdjust="spacingAndGlyphs" fill="#000">a</text>
<text x="157.881" y="20.6" font-size="27.554" font-weight="normal" textLength="15.606" lengthAdjust="spacingAndGlyphs" fill="#000">b</text>
<text x="346.152" y="20.2" font-size="26.814" font-weight="normal" textLength="14.981" lengthAdjust="spacingAndGlyphs" fill="#000">c</text>
<text x="27.203" y="252.5" font-size="27.277" font-weight="normal" textLength="15.977" lengthAdjust="spacingAndGlyphs" fill="#000">d</text>
<text x="198.321" y="20.6" font-size="11.323" font-weight="bold" textLength="34.26" lengthAdjust="spacingAndGlyphs" fill="#000">Saline</text>
<text x="278.385" y="20.7" font-size="12.031" font-weight="bold" textLength="23.702" lengthAdjust="spacingAndGlyphs" fill="#000">CFA</text>
<text x="364.538" y="45.8" font-size="8.6" font-weight="bold" textLength="9.55" lengthAdjust="spacingAndGlyphs" fill="#000">30</text>
<text x="364.535" y="85.3" font-size="8.6" font-weight="bold" textLength="9.658" lengthAdjust="spacingAndGlyphs" fill="#000">20</text>
<text x="364.414" y="124.8" font-size="8.6" font-weight="bold" textLength="9.784" lengthAdjust="spacingAndGlyphs" fill="#000">10</text>
<text x="369.029" y="164.7" font-size="8.6" font-weight="bold" textLength="5.12" lengthAdjust="spacingAndGlyphs" fill="#000">0</text>
<text transform="translate(357.5,120.71) rotate(-90)" font-size="8.765" font-weight="normal" textLength="37.277" lengthAdjust="spacingAndGlyphs">PWTs (g)</text>
<text x="391.501" y="171.8" font-size="9.2" font-weight="normal" textLength="24.994" lengthAdjust="spacingAndGlyphs" fill="#000">Saline</text>
<text x="434.921" y="171.6" font-size="9.2" font-weight="normal" textLength="24.41" lengthAdjust="spacingAndGlyphs" fill="#000">Day 2</text>
<text x="469.436" y="171.6" font-size="9.2" font-weight="normal" textLength="29.064" lengthAdjust="spacingAndGlyphs" fill="#000">Day 15</text>
<text x="558.388" y="171.8" font-size="9.2" font-weight="normal" textLength="25.616" lengthAdjust="spacingAndGlyphs" fill="#000">Saline</text>
<text x="598.604" y="171.6" font-size="9.2" font-weight="normal" textLength="24.938" lengthAdjust="spacingAndGlyphs" fill="#000">Day 2</text>
<text x="635.614" y="171.6" font-size="9.2" font-weight="normal" textLength="29.898" lengthAdjust="spacingAndGlyphs" fill="#000">Day 15</text>
<text x="426.964" y="189.5" font-size="9.5" font-weight="normal" textLength="35.769" lengthAdjust="spacingAndGlyphs" fill="#000">Baseline</text>
<text x="584.1" y="189.5" font-size="9.5" font-weight="normal" textLength="54.867" lengthAdjust="spacingAndGlyphs" fill="#000">Afer injection</text>
<text x="45.447" y="280.4" font-size="12.6" font-weight="bold" textLength="13.173" lengthAdjust="spacingAndGlyphs" fill="#000">30</text>
<text x="45.316" y="330.1" font-size="12.6" font-weight="bold" textLength="13.309" lengthAdjust="spacingAndGlyphs" fill="#000">20</text>
<text x="45.121" y="380.6" font-size="12.6" font-weight="bold" textLength="13.512" lengthAdjust="spacingAndGlyphs" fill="#000">10</text>
<text x="51.764" y="430.8" font-size="12.6" font-weight="bold" textLength="6.981" lengthAdjust="spacingAndGlyphs" fill="#000">0</text>
<text transform="translate(35.6,377.334) rotate(-90)" font-size="13.578" font-weight="normal" textLength="53.856" lengthAdjust="spacingAndGlyphs">PWTs (g)</text>
<text x="123.265" y="446.4" font-size="11.9" font-weight="normal" textLength="34.238" lengthAdjust="spacingAndGlyphs" fill="#000">Saline</text>
<text x="287.619" y="446.9" font-size="11.9" font-weight="normal" textLength="32.467" lengthAdjust="spacingAndGlyphs" fill="#000">Day 2</text>
<text x="447.72" y="446.7" font-size="11.9" font-weight="normal" textLength="39.353" lengthAdjust="spacingAndGlyphs" fill="#000">Day 15</text>
<text x="97.978" y="259.3" font-size="8.5" font-weight="bold" textLength="23.137" lengthAdjust="spacingAndGlyphs" fill="#000">Day 0</text>
<text x="100.094" y="269.1" font-size="8.5" font-weight="bold" textLength="18.67" lengthAdjust="spacingAndGlyphs" fill="#000">PWT</text>
<text x="159.397" y="272.2" font-size="8.5" font-weight="bold" textLength="26.915" lengthAdjust="spacingAndGlyphs" fill="#000">Day 14</text>
<text x="161.399" y="282.0" font-size="8.5" font-weight="bold" textLength="18.463" lengthAdjust="spacingAndGlyphs" fill="#000">PWT</text>
<text x="260.378" y="247.1" font-size="8.5" font-weight="bold" textLength="23.137" lengthAdjust="spacingAndGlyphs" fill="#000">Day 0</text>
<text x="262.699" y="257.2" font-size="8.5" font-weight="bold" textLength="18.463" lengthAdjust="spacingAndGlyphs" fill="#000">PWT</text>
<text x="322.204" y="327.5" font-size="8.5" font-weight="bold" textLength="21.965" lengthAdjust="spacingAndGlyphs" fill="#000">Day 1</text>
<text x="324.597" y="337.6" font-size="8.5" font-weight="bold" textLength="18.566" lengthAdjust="spacingAndGlyphs" fill="#000">PWT</text>
<text x="426.087" y="247.1" font-size="8.5" font-weight="bold" textLength="22.72" lengthAdjust="spacingAndGlyphs" fill="#000">Day 0</text>
<text x="428.194" y="257.2" font-size="8.5" font-weight="bold" textLength="18.67" lengthAdjust="spacingAndGlyphs" fill="#000">PWT</text>
<text x="483.791" y="331.4" font-size="8.5" font-weight="bold" textLength="27.22" lengthAdjust="spacingAndGlyphs" fill="#000">Day 14</text>
<text x="488.502" y="341.5" font-size="8.5" font-weight="bold" textLength="18.36" lengthAdjust="spacingAndGlyphs" fill="#000">PWT</text>
<text x="602.72" y="290.2" font-size="12.9" font-weight="normal" textLength="45.1" lengthAdjust="spacingAndGlyphs" fill="#000">Baseline</text>
<text x="603.077" y="310.8" font-size="12.9" font-weight="normal" textLength="68.356" lengthAdjust="spacingAndGlyphs" fill="#000">Afer injection</text>
</svg>
</body></html>
